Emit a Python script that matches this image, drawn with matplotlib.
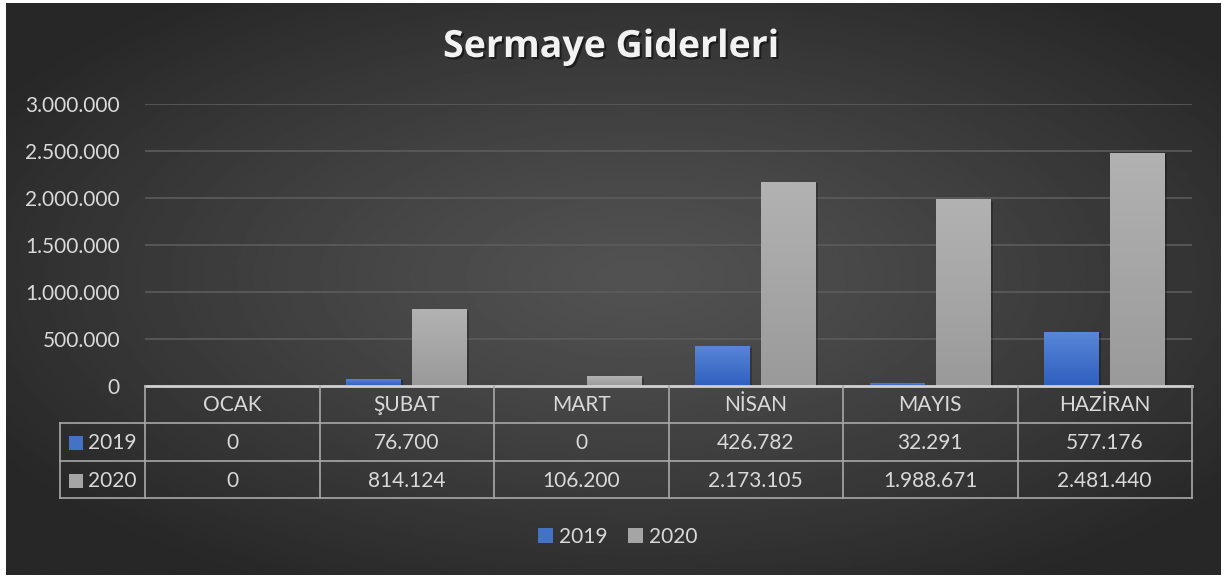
import numpy as np
import matplotlib
matplotlib.use("Agg")
import matplotlib.pyplot as plt
import matplotlib.patheffects as pe
from matplotlib.patches import Patch, Rectangle
from matplotlib.colors import LinearSegmentedColormap
import matplotlib.transforms as mtransforms

# ---------------- data ----------------
title = "Sermaye Giderleri"
months = ["OCAK", "ŞUBAT", "MART", "NİSAN", "MAYIS", "HAZİRAN"]
series_names = ["2019", "2020"]
values_2019 = [0, 76700, 0, 426782, 32291, 577176]
values_2020 = [0, 814124, 106200, 2173105, 1988671, 2481440]
yticks = [0, 500000, 1000000, 1500000, 2000000, 2500000, 3000000]

def tr_fmt(v):
    return f"{int(v):,}".replace(",", ".")

W, H = 1225, 578
fig = plt.figure(figsize=(W / 100, H / 100), dpi=100)
fig.patch.set_facecolor("white")
FONT = "Lato"
TXT = "#d9d9d9"
FS = 15

# ---------------- background (radial gradient) ----------------
bg = fig.add_axes([6 / W, 3 / H, (1221 - 6) / W, 572 / H])
bg.set_axis_off()
ny, nx = 300, 600
yy, xx = np.mgrid[0:1:ny * 1j, 0:1:nx * 1j]
r = np.sqrt(((xx - 0.52) / 0.62) ** 2 + ((yy - 0.48) / 0.62) ** 2)
r = np.clip(r, 0, 1)
center, edge = 0x52 / 255, 0x27 / 255
img = center + (edge - center) * r ** 1.2
bg.imshow(img, cmap="gray", vmin=0, vmax=1, aspect="auto", extent=[0, 1, 0, 1], interpolation="bilinear")
bg.set_xlim(0, 1)
bg.set_ylim(0, 1)

# ---------------- main axes ----------------
x0, x1 = 145, 1192
ytop, ybot = 104, 386
ax = fig.add_axes([x0 / W, 1 - ybot / H, (x1 - x0) / W, (ybot - ytop) / H])
ax.patch.set_alpha(0)
ax.set_xlim(-0.5, len(months) - 0.5)
ax.set_ylim(0, 3000000)
for s in ax.spines.values():
    s.set_visible(False)
ax.set_xticks([])
ax.set_yticks(yticks)
ax.set_yticklabels([tr_fmt(v) for v in yticks], fontsize=FS, color=TXT, family=FONT)
ax.tick_params(axis="y", length=0, pad=18)
ax.yaxis.grid(True, color="#5c5c5c", linewidth=1.2)
ax.set_axisbelow(True)

x = np.arange(len(months))
bw = 0.315
off = 0.19
blue_cmap = LinearSegmentedColormap.from_list("b", ["#2f5fbf", "#5987d8"])
gray_cmap = LinearSegmentedColormap.from_list("g", ["#9a9a9a", "#b2b2b2"])
grad = np.linspace(0, 1, 100).reshape(-1, 1)
shadow = [pe.SimplePatchShadow(offset=(1.2, -1.2), shadow_rgbFace="black", alpha=0.25), pe.Normal()]
for vals, sign, cmap, col in [(values_2019, -1, blue_cmap, "#4472c4"), (values_2020, 1, gray_cmap, "#a5a5a5")]:
    bars = ax.bar(x + sign * off, vals, width=bw, color=col, zorder=3, path_effects=shadow, linewidth=0)
    for b in bars:
        h = b.get_height()
        if h <= 0:
            continue
        im = ax.imshow(grad, cmap=cmap, aspect="auto", origin="lower",
                       extent=[b.get_x(), b.get_x() + b.get_width(), 0, h], zorder=4)
        im.set_clip_path(b)
ax.set_xlim(-0.5, len(months) - 0.5)
ax.set_ylim(0, 3000000)

# ---------------- data table ----------------
trans = mtransforms.blended_transform_factory(ax.transData, ax.transAxes)
axh = ybot - ytop
def yax(py):
    return (ybot - py) / axh

row_y = [386, 423, 461, 498]
lab_x = -0.5 - (145 - 60) / 174.5
LC = "#a8a8a8"
LW = 1.2
ax.plot([-0.5, 5.5], [yax(386)] * 2, transform=trans, color="#d0d0d0", lw=2.0, clip_on=False, zorder=5)
for py in row_y[1:]:
    ax.plot([lab_x, 5.5], [yax(py)] * 2, transform=trans, color=LC, lw=LW, clip_on=False, zorder=5)
for i in range(len(months) + 1):
    ax.plot([i - 0.5] * 2, [yax(386), yax(498)], transform=trans, color=LC, lw=LW, clip_on=False, zorder=5)
ax.plot([lab_x] * 2, [yax(423), yax(498)], transform=trans, color=LC, lw=LW, clip_on=False, zorder=5)

for i, m in enumerate(months):
    ax.text(i, yax(405), m, transform=trans, ha="center", va="center", fontsize=FS, color=TXT, family=FONT)
    ax.text(i, yax(443), tr_fmt(values_2019[i]), transform=trans, ha="center", va="center", fontsize=FS, color=TXT, family=FONT)
    ax.text(i, yax(481), tr_fmt(values_2020[i]), transform=trans, ha="center", va="center", fontsize=FS, color=TXT, family=FONT)

sq = 14 / 174.5
for name, col, py in [(series_names[0], "#4472c4", 443), (series_names[1], "#a5a5a5", 481)]:
    sx = -0.5 - (145 - 69) / 174.5
    ax.add_patch(Rectangle((sx, yax(py + 7)), sq, 14 / axh, transform=trans, facecolor=col,
                           edgecolor="none", clip_on=False, zorder=5))
    ax.text(-0.5 - (145 - 88) / 174.5, yax(py), name, transform=trans, ha="left", va="center",
            fontsize=FS, color=TXT, family=FONT)

# ---------------- title ----------------
fig.text(611 / W, 1 - 47 / H, title, ha="center", va="center", fontsize=27, fontweight="bold",
         family="Open Sans", color="#f2f2f2",
         path_effects=[pe.withSimplePatchShadow(offset=(1.5, -1.5), shadow_rgbFace="black", alpha=0.5)])

# ---------------- legend ----------------
handles = [Patch(facecolor="#4472c4", edgecolor="none", label=series_names[0]),
           Patch(facecolor="#a5a5a5", edgecolor="none", label=series_names[1])]
leg = fig.legend(handles=handles, loc="center", bbox_to_anchor=(618 / W, 1 - 537 / H), ncol=2,
                 frameon=False, handlelength=0.7, handleheight=0.7, handletextpad=0.3,
                 columnspacing=1.0, prop={"family": FONT, "size": FS})
for t in leg.get_texts():
    t.set_color(TXT)

fig.savefig("out.png", dpi=100, facecolor=fig.get_facecolor())
